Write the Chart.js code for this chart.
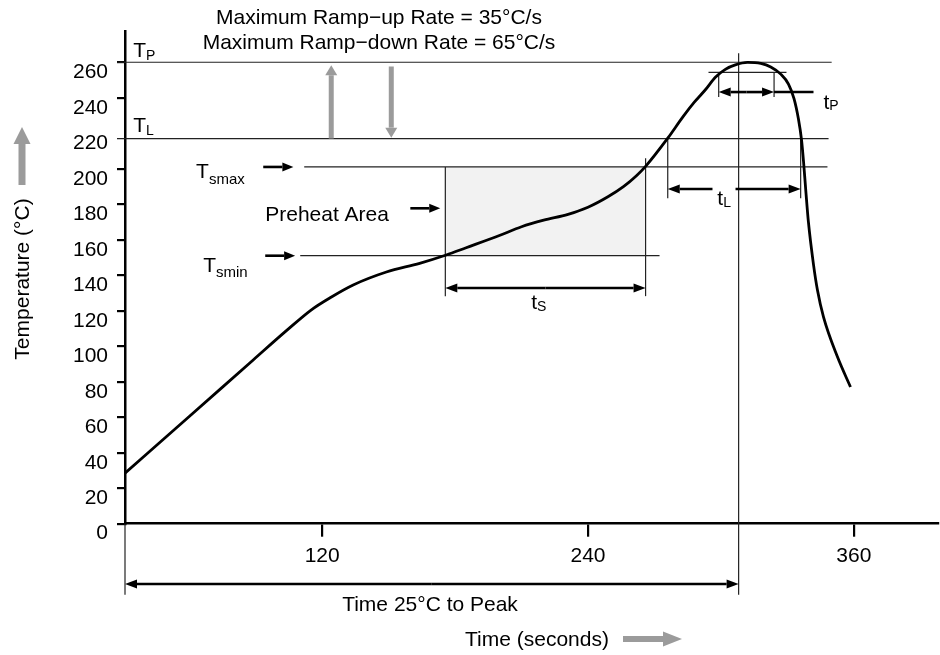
<!DOCTYPE html>
<html>
<head>
<meta charset="utf-8">
<script src="https://cdn.jsdelivr.net/npm/chart.js@4.4.0/dist/chart.umd.min.js"></script>
<style>
  html, body { margin: 0; padding: 0; background: #fff; }
</style>
</head>
<body>
<canvas id="reflowChart" width="940" height="655"></canvas>
<script>
// reflow profile
const timeSec = [31, 60, 89, 104, 115, 124, 134, 149, 164, 176, 185, 200, 210, 220, 231, 240, 249, 256, 262, 266,
                 276, 283, 288, 293, 297.5, 302, 306.5, 312, 318, 322.5, 327, 330.5, 333, 335, 336.4, 337.3, 338.3, 339.5,
                 341.8, 343.6, 346.3, 352.6, 358.5];
const tempC = [28.5, 60.4, 92.4, 108.9, 120.4, 127.6, 134.5, 141.8, 146.7, 151.4, 155.5, 162.4, 167.3, 171, 174.3, 178.3, 184.2, 189.9, 196.2, 201.3,
               217.2, 229.5, 237.5, 244.5, 251.5, 256, 258.5, 259.9, 259.3, 257.3, 253.3, 247.7, 239.5, 228, 216.2, 204, 188, 170,
               146, 131.5, 116.5, 94, 77];
const xTickValues = [120, 240, 360];
const yTickValues = [0, 20, 40, 60, 80, 100, 120, 140, 160, 180, 200, 220, 240, 260];

// profile levels and times
const TP = 260, TL = 217, TSMAX = 201, TSMIN = 151;
const soakStart = 175.6, soakEnd = 266;
const liqStart = 276, liqEnd = 336;
const peakTime = 308;
const tpStart = 299, tpEnd = 324;

const FONT = '"Liberation Sans", Arial, Helvetica, sans-serif';
const GRAY = '#9b9b9b';

function seg(ctx, x1, y1, x2, y2, w, c) {
    ctx.beginPath();
    ctx.lineWidth = w;
    ctx.strokeStyle = c;
    ctx.moveTo(x1, y1);
    ctx.lineTo(x2, y2);
    ctx.stroke();
}

// arrow from (x1,y1) to (x2,y2), head at the end
function arrow(ctx, x1, y1, x2, y2, o) {
    const ang = Math.atan2(y2 - y1, x2 - x1);
    const len = o.len, half = o.half;
    const bx = x2 - Math.cos(ang) * len, by = y2 - Math.sin(ang) * len;
    seg(ctx, x1, y1, bx, by, o.w, o.color);
    ctx.beginPath();
    ctx.fillStyle = o.color;
    ctx.moveTo(x2, y2);
    ctx.lineTo(bx - Math.sin(ang) * half, by + Math.cos(ang) * half);
    ctx.lineTo(bx + Math.sin(ang) * half, by - Math.cos(ang) * half);
    ctx.closePath();
    ctx.fill();
}

function twoWay(ctx, x1, y, x2, o) {
    const mid = (x1 + x2) / 2;
    arrow(ctx, mid, y, x1, y, o);
    arrow(ctx, mid, y, x2, y, o);
}

function subText(ctx, main, sub, x, y, size, subSize, drop) {
    ctx.fillStyle = '#000';
    ctx.textAlign = 'left';
    ctx.textBaseline = 'alphabetic';
    ctx.font = size + 'px ' + FONT;
    ctx.fillText(main, x, y);
    const w = ctx.measureText(main).width;
    ctx.font = subSize + 'px ' + FONT;
    ctx.fillText(sub, x + w, y + drop);
}

const profileMarks = {
    id: 'profileMarks',
    beforeDatasetsDraw(chart) {
        const ctx = chart.ctx;
        const X = v => chart.scales.x.getPixelForValue(v);
        const Y = v => chart.scales.y.getPixelForValue(v);
        const thin = '#222';
        ctx.save();
        // preheat area
        ctx.fillStyle = '#f2f2f2';
        ctx.fillRect(X(soakStart), Y(TSMAX), X(soakEnd) - X(soakStart), Y(TSMIN) - Y(TSMAX));
        // level lines
        seg(ctx, X(31) - 8, Y(TP), X(350), Y(TP), 1.2, thin);
        seg(ctx, X(31) - 8, Y(TL), X(348.6), Y(TL), 1.2, thin);
        seg(ctx, X(111.9), Y(TSMAX), X(348.1), Y(TSMAX), 1.2, thin);
        seg(ctx, X(110.1), Y(TSMIN), X(272.3), Y(TSMIN), 1.2, thin);
        seg(ctx, X(294.4), Y(254.3), X(329.6), Y(254.3), 1.2, thin);
        // verticals
        seg(ctx, X(soakStart), Y(TSMAX), X(soakStart), Y(128.2), 1.2, thin);
        seg(ctx, X(soakEnd), Y(205.9), X(soakEnd), Y(128.2), 1.2, thin);
        seg(ctx, X(liqStart), Y(TL), X(liqStart), Y(183.4), 1.2, thin);
        seg(ctx, X(liqEnd), Y(TL), X(liqEnd), Y(183.4), 1.2, thin);
        seg(ctx, X(tpStart), Y(254.5), X(tpStart), Y(240.4), 1.2, thin);
        seg(ctx, X(tpEnd), Y(254.5), X(tpEnd), Y(240.4), 1.2, thin);
        seg(ctx, X(peakTime), Y(265), X(peakTime), Y(-40), 1.2, thin);
        seg(ctx, X(31), Y(0), X(31), Y(-40), 1.2, thin);
        ctx.restore();
    },
    afterDraw(chart) {
        const ctx = chart.ctx;
        const X = v => chart.scales.x.getPixelForValue(v);
        const Y = v => chart.scales.y.getPixelForValue(v);
        const blk = { w: 2.6, color: '#000', len: 12, half: 4.5 };
        ctx.save();

        // dimension arrows
        twoWay(ctx, X(soakStart), Y(132.8), X(soakEnd), blk);
        arrow(ctx, X(296.2), Y(188.6), X(liqStart), Y(188.6), blk);
        arrow(ctx, X(306.6), Y(188.6), X(liqEnd), Y(188.6), blk);
        twoWay(ctx, X(tpStart), Y(243.2), X(tpEnd), blk);
        seg(ctx, X(tpEnd), Y(243.2), X(341.8), Y(243.2), 2.6, '#000');
        twoWay(ctx, X(31), Y(-34), X(peakTime), blk);

        // pointers
        const ptr = { w: 2.6, color: '#000', len: 11, half: 4.5 };
        arrow(ctx, X(93.4), Y(TSMAX), X(107), Y(TSMAX), ptr);
        arrow(ctx, X(94.3), Y(TSMIN), X(107.8), Y(TSMIN), ptr);
        arrow(ctx, X(159.8), Y(177.7), X(173.3), Y(177.7), ptr);

        // ramp rate arrows
        const g = { w: 5, color: GRAY, len: 10, half: 6 };
        arrow(ctx, X(124.1), Y(TL), X(124.1), Y(258.3), g);
        arrow(ctx, X(151.2), Y(257.6), X(151.2), Y(217.5), g);

        // labels
        subText(ctx, 'T', 'P', X(34.7), Y(262.9), 21, 14, 3);
        subText(ctx, 'T', 'L', X(34.7), Y(220.7), 21, 14, 3);
        subText(ctx, 'T', 'smax', X(63.1), Y(194.8), 21, 15, 6);
        subText(ctx, 'T', 'smin', X(66.3), Y(141.7), 21, 15, 5);
        subText(ctx, 't', 'S', X(214.4), Y(120.8), 21, 14, 2);
        subText(ctx, 't', 'L', X(298.4), Y(179.5), 21, 14, 2);
        subText(ctx, 't', 'P', X(346.3), Y(233.6), 21, 14, 1);
        ctx.font = '21px ' + FONT;
        ctx.fillStyle = '#000';
        ctx.textAlign = 'left';
        ctx.fillText('Preheat Area', X(94.3), Y(170.4));

        // title
        ctx.textAlign = 'center';
        ctx.fillText('Maximum Ramp\u2212up Rate = 35\u00B0C/s', 379, 24);
        ctx.fillText('Maximum Ramp\u2212down Rate = 65\u00B0C/s', 379, 49);
        ctx.fillText('Time 25\u00B0C to Peak', 430, 611);

        // x axis title with arrow
        ctx.textAlign = 'left';
        ctx.fillText('Time (seconds)', 465, 646);
        arrow(ctx, 623, 639, 682, 639, { w: 6, color: GRAY, len: 19, half: 7.5 });

        // y axis title with arrow
        arrow(ctx, 22, 185, 22, 127, { w: 7, color: GRAY, len: 17, half: 8.5 });
        ctx.translate(29, 279);
        ctx.rotate(-Math.PI / 2);
        ctx.textAlign = 'center';
        ctx.fillStyle = '#000';
        ctx.fillText('Temperature (\u00B0C)', 0, 0);
        ctx.restore();
    }
};

new Chart(document.getElementById('reflowChart').getContext('2d'), {
    type: 'line',
    data: {
        datasets: [{
            data: timeSec.map((t, i) => ({ x: t, y: tempC[i] })),
            borderColor: '#000',
            borderWidth: 2.8,
            pointRadius: 0,
            fill: false,
            cubicInterpolationMode: 'monotone'
        }]
    },
    options: {
        responsive: false,
        animation: false,
        layout: { padding: { top: 31, right: 2, left: 0, bottom: 0 } },
        plugins: { legend: { display: false }, tooltip: { enabled: false } },
        scales: {
            x: {
                type: 'linear',
                min: 31,
                max: 398,
                afterBuildTicks: s => { s.ticks = xTickValues.map(v => ({ value: v })); },
                afterFit: s => { s.height = 131.3; },
                border: { display: true, color: '#000', width: 2.5 },
                grid: { drawOnChartArea: false, drawTicks: true, tickLength: 13, color: '#000', lineWidth: 2.2 },
                ticks: { color: '#000', padding: 7, maxRotation: 0, font: { family: FONT, size: 21 } }
            },
            y: {
                type: 'linear',
                min: 0,
                max: 277.6,
                afterBuildTicks: s => { s.ticks = yTickValues.map(v => ({ value: v })); },
                afterFit: s => { s.width = 125; },
                border: { display: true, color: '#000', width: 2.5 },
                grid: {
                    drawOnChartArea: false, drawTicks: true, tickLength: 8, lineWidth: 2.2,
                    color: c => (c.tick && c.tick.value === 220) ? 'rgba(0,0,0,0)' : '#000'
                },
                ticks: { color: '#000', padding: 9, labelOffset: 10, font: { family: FONT, size: 21 } }
            }
        }
    },
    plugins: [profileMarks]
});
</script>
</body>
</html>
